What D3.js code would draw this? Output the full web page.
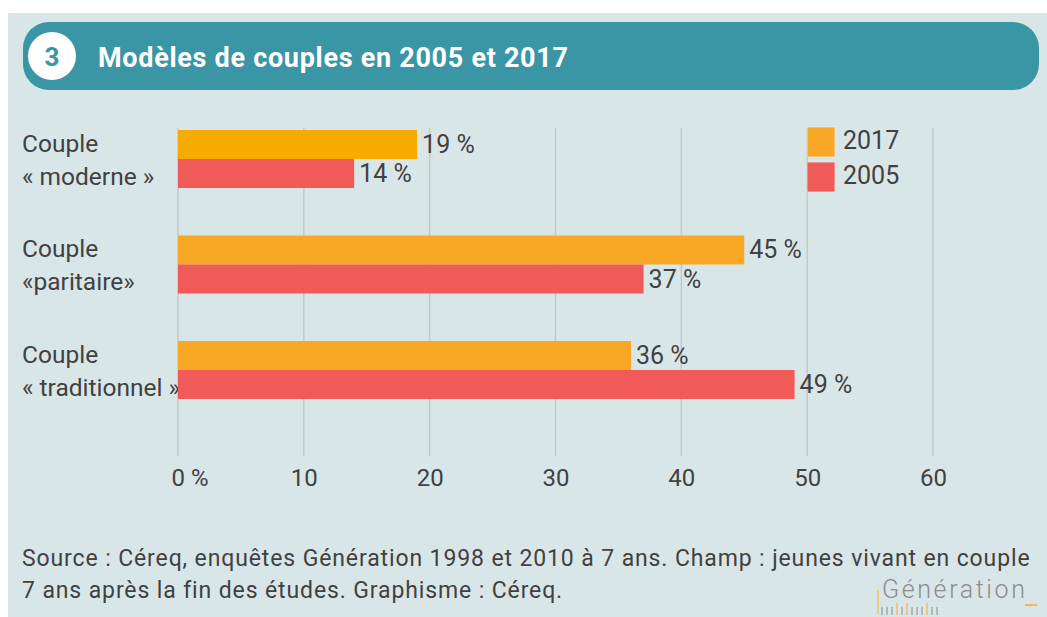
<!DOCTYPE html>
<html>
<head>
<meta charset="utf-8">
<script src="https://cdn.jsdelivr.net/npm/d3@7"></script>
<style>
  html, body { margin: 0; padding: 0; background: #fff; }
  svg { display: block; font-family: Roboto, "Noto Sans", sans-serif; }
</style>
</head>
<body>
<svg id="chart" width="1047" height="617"></svg>
<script>
// data
const categories = ["Couple\n« moderne »", "Couple\n«paritaire»", "Couple\n« traditionnel »"];
const seriesNames = ["2017", "2005"];
const values2017 = [19, 45, 36];
const values2005 = [14, 37, 49];
const xTicks = [0, 10, 20, 30, 40, 50, 60];
const title = "Modèles de couples en 2005 et 2017";
const sourceLines = [
  "Source : Céreq, enquêtes Génération 1998 et 2010 à 7 ans. Champ : jeunes vivant en couple",
  "7 ans après la fin des études. Graphisme : Céreq."
];

const colors = { "2017": "#f8a825", "2005": "#f05b5a" };
// the first 2017 bar is a slightly yellower orange in the original
const barColor = (s, i) => (s === "2017" && i === 0) ? "#f7ab00" : colors[s];
const textColor = "#414141";

const svg = d3.select("#chart");

// stretch letter spacing so a text node reaches a target width
function fitWidth(node, target) {
  const n = node.getNumberOfChars();
  const w = node.getComputedTextLength();
  const ls = (target - w) / Math.max(1, n - 1);
  d3.select(node).attr("letter-spacing", ls.toFixed(2));
  return ls;
}

// background panel
svg.append("rect").attr("x", 8).attr("y", 13).attr("width", 1039).attr("height", 604).attr("fill", "#d9e6e8");

// header
svg.append("rect").attr("x", 23).attr("y", 22).attr("width", 1016).attr("height", 68)
  .attr("rx", 26).attr("fill", "#3a96a4");
svg.append("circle").attr("cx", 52).attr("cy", 56).attr("r", 24).attr("fill", "#fff");
svg.append("text").attr("x", 52).attr("y", 65.5).attr("text-anchor", "middle")
  .attr("font-size", 26).attr("font-weight", 700).attr("fill", "#3a96a4").text("3");
const titleNode = svg.append("text").attr("x", 98).attr("y", 67)
  .attr("font-size", 27).attr("font-weight", 700).attr("fill", "#fff").text(title).node();
fitWidth(titleNode, 470);

// scales
const x = d3.scaleLinear().domain([0, 60]).range([178, 933]);
const y = d3.scaleBand().domain(categories).range([130, 399]).paddingInner(0.45).paddingOuter(0);
const ySub = d3.scaleBand().domain(seriesNames).range([0, y.bandwidth()]);

// grid
svg.append("g").selectAll("line").data(xTicks).join("line")
  .attr("x1", d => x(d)).attr("x2", d => x(d))
  .attr("y1", 128).attr("y2", 456)
  .attr("stroke", "#c3c9cb").attr("stroke-width", 1.5);

// axis labels
const xAxis = d3.axisBottom(x).tickValues(xTicks).tickSize(0).tickPadding(0)
  .tickFormat(d => d === 0 ? "0 %" : d);
const ax = svg.append("g").attr("transform", "translate(0,469)").call(xAxis);
ax.select(".domain").remove();
ax.selectAll("text").attr("font-size", 24).attr("fill", textColor).attr("font-family", "Roboto, sans-serif");
ax.selectAll("text").filter(d => d === 0).attr("text-anchor", "start").attr("x", -7);

const rows = categories.map((c, i) => ({ cat: c, idx: i, vals: [
  { s: "2017", v: values2017[i], i }, { s: "2005", v: values2005[i], i }
]}));

const grp = svg.append("g").selectAll("g").data(rows).join("g")
  .attr("transform", d => `translate(0,${y(d.cat)})`);

// category labels (drawn under the bars)
grp.each(function(d) {
  const lines = d.cat.split("\n");
  const t = d3.select(this).append("text").attr("x", 22).attr("font-size", 24.5).attr("fill", textColor);
  lines.forEach((l, i) => t.append("tspan").attr("x", 22).attr("y", 22 + i * 33).text(l));
});

// bars
grp.selectAll("rect").data(d => d.vals).join("rect")
  .attr("x", x(0))
  .attr("y", d => ySub(d.s))
  .attr("width", d => x(d.v) - x(0))
  .attr("height", ySub.bandwidth())
  .attr("fill", d => barColor(d.s, d.i));

grp.selectAll("text.val").data(d => d.vals).join("text").attr("class", "val")
  .attr("x", d => x(d.v) + 5)
  .attr("y", d => ySub(d.s) + ySub.bandwidth() - 6)
  .attr("font-size", 25).attr("fill", textColor)
  .text(d => d.v + " %");

// legend
const lg = svg.append("g").selectAll("g").data(seriesNames).join("g")
  .attr("transform", (d, i) => `translate(807,${127 + i * 35})`);
lg.append("rect").attr("width", 28).attr("height", 30).attr("fill", d => colors[d])
  .attr("stroke", "#e4e4e4").attr("stroke-width", 0.8);
lg.append("text").attr("x", 36).attr("y", 21.5).attr("font-size", 25).attr("fill", textColor).text(d => d);

// source
const src = svg.append("g").selectAll("text").data(sourceLines).join("text")
  .attr("x", 22).attr("y", (d, i) => 566 + i * 32)
  .attr("font-size", 23).attr("fill", textColor)
  .text(d => d);
const ls = fitWidth(src.nodes()[0], 1008);
d3.select(src.nodes()[1]).attr("letter-spacing", ls.toFixed(2));

// logo
const logo = svg.append("text").attr("x", 882).attr("y", 598).attr("font-size", 25).attr("font-weight", 300)
  .attr("fill", "#8c8c8c").text("Génération").node();
fitWidth(logo, 143);
svg.append("line").attr("x1", 1025).attr("x2", 1037).attr("y1", 605).attr("y2", 605)
  .attr("stroke", "#f8a825").attr("stroke-width", 1.5);
svg.append("line").attr("x1", 878).attr("x2", 878).attr("y1", 590).attr("y2", 614)
  .attr("stroke", "#f8a825").attr("stroke-width", 1);
const barcode = [0, 5, 10, 15, 20, 25, 30, 35, 40, 45, 50, 55];
svg.append("g").selectAll("line").data(barcode).join("line")
  .attr("x1", d => 882 + d).attr("x2", d => 882 + d)
  .attr("y1", (d, i) => (i === 3 || i === 5 || i === 9) ? 603 : 607).attr("y2", 615)
  .attr("stroke", (d, i) => (i === 3 || i === 5 || i === 9) ? "#f8a825" : "#8c8c8c").attr("stroke-width", 1);
</script>
</body>
</html>
